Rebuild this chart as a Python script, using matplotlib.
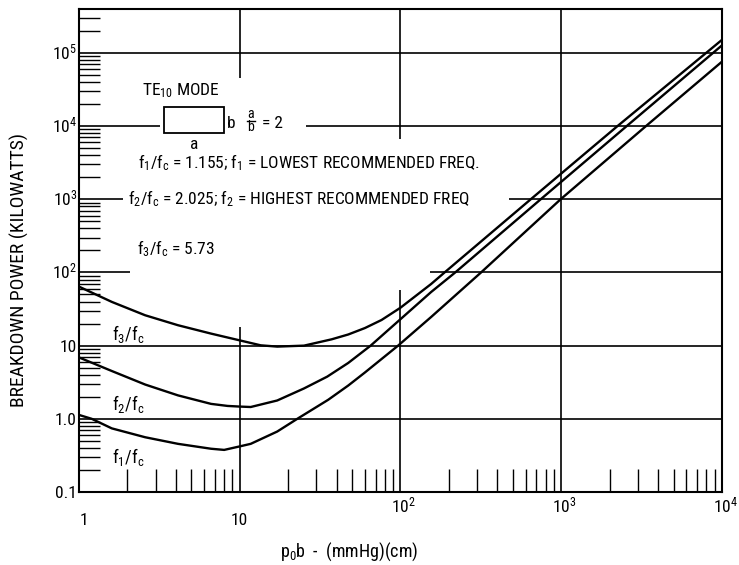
import matplotlib
matplotlib.use("Agg")
import matplotlib.pyplot as plt
import matplotlib.transforms as mtransforms
from matplotlib.lines import Line2D
from matplotlib.ticker import LogLocator, NullFormatter, NullLocator
from matplotlib.patches import Rectangle

# p0*b (mmHg*cm) versus breakdown power (kW) for three frequency ratios
f1_pb = [1, 1.2, 1.6, 2.58, 4.13, 6.63, 8.0, 10, 11.7, 17.1, 22.8, 35.5,
         47.3, 60.1, 96.6, 155, 317, 991, 3365, 10000]
f1_kw = [1.13, 1.0, 0.74, 0.56, 0.455, 0.39, 0.376, 0.42, 0.455, 0.67, 1.0,
         1.82, 2.85, 4.3, 10, 24.6, 100, 1000, 1e4, 7.6e4]

f2_pb = [1, 1.6, 2.58, 4.13, 6.63, 8.4, 10, 11.7, 17.1, 25.1, 35, 47.3,
         65.2, 100, 155, 219, 745, 2553, 10000]
f2_kw = [6.9, 4.5, 2.94, 2.09, 1.6, 1.5, 1.47, 1.45, 1.78, 2.6, 3.77, 5.8,
         10, 23, 54, 100, 1000, 1e4, 1.27e5]

f3_pb = [1, 1.6, 2.58, 4.13, 6.63, 10, 13.5, 17.1, 25.1, 37.3, 47.3, 60.1,
         76.2, 100, 155, 188, 646, 2238, 10000]
f3_kw = [64, 39.6, 26, 19, 14.6, 11.8, 10.1, 9.7, 10, 12.2, 14.2, 17.4,
         22.4, 33, 69.5, 100, 1000, 1e4, 1.51e5]

x_ticks = [1, 10, 100, 1000, 10000]
x_tick_labels = ['1', '10', '10$^2$', '10$^3$', '10$^4$']
y_ticks = [0.1, 1, 10, 100, 1e3, 1e4, 1e5]
y_tick_labels = ['0.1', '1.0', '10', '10$^2$', '10$^3$', '10$^4$', '10$^5$']

NARROW = 'Roboto Condensed'
plt.rcParams['font.family'] = [NARROW, 'DejaVu Sans']
plt.rcParams['mathtext.fontset'] = 'custom'
plt.rcParams['mathtext.rm'] = NARROW
plt.rcParams['mathtext.it'] = NARROW
plt.rcParams['mathtext.bf'] = NARROW + ':bold'

W, H = 739, 565
L, R, B, T = 79, 722, 492, 9
fig = plt.figure(figsize=(W / 100, H / 100), dpi=100)
ax = fig.add_axes([L / W, 1 - B / H, (R - L) / W, (B - T) / H])
ax.set_xscale('log')
ax.set_yscale('log')
ymax = 10 ** 5.6
ax.set_xlim(1, 1e4)
ax.set_ylim(0.1, ymax)

for s in ax.spines.values():
    s.set_linewidth(1.5)

# minor ticks point inward along the left and bottom edges
ax.xaxis.set_major_locator(NullLocator())
ax.yaxis.set_major_locator(NullLocator())
subs = [2, 3, 4, 5, 6, 7, 8, 9]
ax.xaxis.set_minor_locator(LogLocator(base=10, subs=subs, numticks=20))
ax.yaxis.set_minor_locator(LogLocator(base=10, subs=subs, numticks=20))
ax.xaxis.set_minor_formatter(NullFormatter())
ax.yaxis.set_minor_formatter(NullFormatter())
ax.tick_params(axis='x', which='minor', direction='in', length=16.5, width=1.0,
               top=False, bottom=True)
ax.tick_params(axis='y', which='minor', direction='in', length=15, width=1.0,
               left=True, right=False)

# grid lines, broken where the annotations sit
gkw = dict(color='black', lw=1.2, zorder=1)
ax.hlines([1, 10, 1e5], 1, 1e4, **gkw)
ax.hlines(100, 1, 2.07, **gkw)
ax.hlines(100, 153, 1e4, **gkw)
ax.hlines(1e3, 1, 1.88, **gkw)
ax.hlines(1e3, 475, 1e4, **gkw)
ax.hlines(1e4, 1, 3.18, **gkw)
ax.hlines(1e4, 25.9, 1e4, **gkw)
ax.vlines(10, 0.1, 17.8, **gkw)
ax.vlines(10, 4.5e4, ymax, **gkw)
ax.vlines(100, 0.1, 57, **gkw)
ax.vlines(100, 6.76e3, ymax, **gkw)
ax.vlines(1000, 0.1, ymax, **gkw)

ckw = dict(color='black', lw=1.7, solid_joinstyle='round', zorder=3)
ax.plot(f1_pb, f1_kw, **ckw)
ax.plot(f2_pb, f2_kw, **ckw)
ax.plot(f3_pb, f3_kw, **ckw)

FS = 12.5


def fx(px):
    return px / W


def fy(py):
    return 1 - py / H


# tick labels
xtr = ax.get_xaxis_transform()
for v, lab in zip(x_ticks, x_tick_labels):
    base = 512 if '$' in lab else 525
    dx = 5 if v == 1 else (3 if '$' in lab else 0)
    tr = mtransforms.offset_copy(xtr, fig=fig, x=dx, y=0, units='dots')
    ax.text(v, (B - base) / (B - T), lab, transform=tr, ha='center',
            va='baseline', fontsize=FS, clip_on=False)

ytr = mtransforms.offset_copy(ax.get_yaxis_transform(), fig=fig, x=-2, y=-6,
                              units='dots')
for v, lab in zip(y_ticks, y_tick_labels):
    ax.text(0, v, lab, transform=ytr, ha='right', va='baseline',
            fontsize=FS, clip_on=False)

# axis titles
fig.text(fx(19), fy(270), 'BREAKDOWN POWER (KILOWATTS)', rotation=90,
         ha='center', va='center', fontsize=14)
fig.text(fx(280), fy(557), 'p$_0$b  -  (mmHg)(cm)', ha='left',
         va='baseline', fontsize=13)

# waveguide sketch and notes
fig.text(fx(142), fy(95), 'TE$_{10}$ MODE', ha='left', va='baseline',
         fontsize=FS)
fig.add_artist(Rectangle((fx(164), fy(133)), 60 / W, 26 / H,
                         transform=fig.transFigure, fill=False, lw=1.3,
                         color='black'))
fig.text(fx(227), fy(128), 'b', ha='left', va='baseline', fontsize=FS)
fig.text(fx(250.5), fy(118), 'a', ha='center', va='baseline', fontsize=10)
fig.add_artist(Line2D([fx(247), fx(255)], [fy(120.5), fy(120.5)],
                      transform=fig.transFigure, color='black', lw=1.0))
fig.text(fx(250.5), fy(131), 'b', ha='center', va='baseline', fontsize=10)
fig.text(fx(262), fy(128), '= 2', ha='left', va='baseline', fontsize=FS)
fig.text(fx(190), fy(149), 'a', ha='left', va='baseline', fontsize=FS)

fig.text(fx(138), fy(168),
         'f$_1$/f$_c$ = 1.155; f$_1$ = LOWEST RECOMMENDED FREQ.',
         ha='left', va='baseline', fontsize=FS)
fig.text(fx(128), fy(204),
         'f$_2$/f$_c$ = 2.025; f$_2$ = HIGHEST RECOMMENDED FREQ',
         ha='left', va='baseline', fontsize=FS)
fig.text(fx(137), fy(254), 'f$_3$/f$_c$ = 5.73', ha='left', va='baseline',
         fontsize=FS)

# curve labels
fig.text(fx(112), fy(340), 'f$_3$/f$_c$', ha='left', va='baseline', fontsize=13)
fig.text(fx(112), fy(410), 'f$_2$/f$_c$', ha='left', va='baseline', fontsize=13)
fig.text(fx(112), fy(463), 'f$_1$/f$_c$', ha='left', va='baseline', fontsize=13)

fig.savefig('out.png', dpi=100)
